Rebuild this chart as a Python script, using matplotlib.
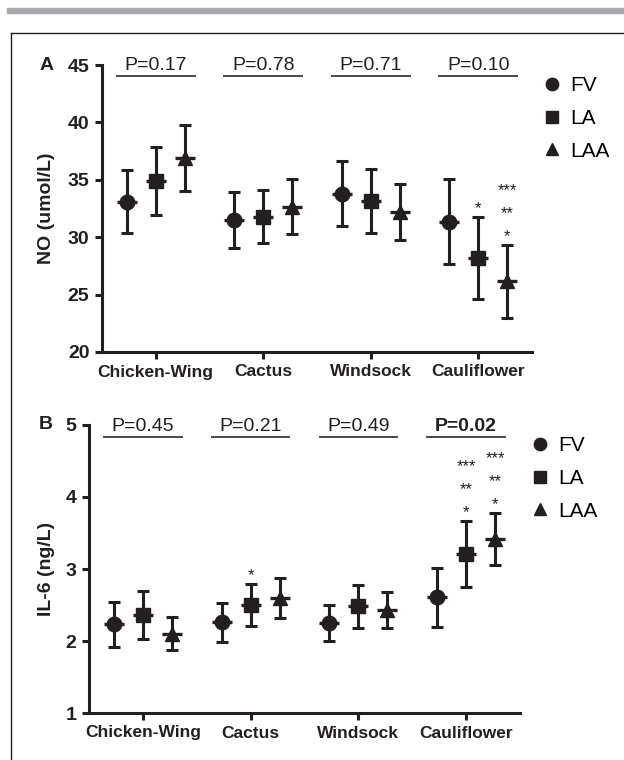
import numpy as np
import matplotlib
matplotlib.use("Agg")
import matplotlib.pyplot as plt
from matplotlib.lines import Line2D

plt.rcParams['font.family'] = ['Liberation Sans', 'DejaVu Sans']

INK = '#231f20'

# ---- data -------------------------------------------------------------
categories = ["Chicken-Wing", "Cactus", "Windsock", "Cauliflower"]
groups = ["FV", "LA", "LAA"]

no_mean = {"FV": [33.1, 31.5, 33.8, 31.35],
           "LA": [34.9, 31.8, 33.15, 28.2],
           "LAA": [36.9, 32.65, 32.2, 26.15]}
no_err = {"FV": [2.75, 2.45, 2.8, 3.7],
          "LA": [3.0, 2.3, 2.8, 3.6],
          "LAA": [2.85, 2.4, 2.47, 3.2]}
no_p = ["P=0.17", "P=0.78", "P=0.71", "P=0.10"]
no_p_bold = [False, False, False, False]
# (category index, group, star strings from bottom to top)
no_stars = [(3, "LA", ["*"]), (3, "LAA", ["*", "**", "***"])]

il6_mean = {"FV": [2.23, 2.26, 2.25, 2.61],
            "LA": [2.36, 2.50, 2.48, 3.21],
            "LAA": [2.10, 2.60, 2.43, 3.42]}
il6_err = {"FV": [0.31, 0.27, 0.25, 0.41],
           "LA": [0.33, 0.29, 0.30, 0.46],
           "LAA": [0.23, 0.28, 0.25, 0.36]}
il6_p = ["P=0.45", "P=0.21", "P=0.49", "P=0.02"]
il6_p_bold = [False, False, False, True]
il6_stars = [(1, "LA", ["*"]), (3, "LA", ["*", "**", "***"]),
             (3, "LAA", ["*", "**", "***"])]

markers = {"FV": "o", "LA": "s", "LAA": "^"}
msizes = {"FV": 10.5, "LA": 10, "LAA": 10.5}
offsets = {"FV": -0.27, "LA": 0.0, "LAA": 0.27}


def draw_panel(ax, means, errs, pvals, pbold, stars, ylim, yticks, ylabel,
               letter, letter_x, pline_y, leg_anchor):
    x = np.arange(1, len(categories) + 1)
    for g in groups:
        xs = x + offsets[g]
        ax.errorbar(xs, means[g], yerr=errs[g], fmt='none', ecolor=INK,
                    elinewidth=2.2, capsize=4.5, capthick=2.2, zorder=2)
        ax.plot(xs, means[g], linestyle='none', marker=markers[g],
                ms=msizes[g], color=INK, zorder=3)
        ax.plot(xs, means[g], linestyle='none', marker='_', ms=14,
                mew=2.4, color=INK, zorder=3)

    # significance stars above the upper error cap
    for ci, g, st in stars:
        top = means[g][ci] + errs[g][ci]
        for k, s in enumerate(st):
            ax.annotate(s, (x[ci] + offsets[g], top), xytext=(0, 6 + 16.5 * k),
                        textcoords='offset points', ha='center', va='center',
                        fontsize=12, color=INK, annotation_clip=False)

    # P-value labels with bars
    for ci, (ptxt, b) in enumerate(zip(pvals, pbold)):
        ax.plot([x[ci] - 0.37, x[ci] + 0.37], [pline_y, pline_y], color='#3a3a3a',
                lw=1.3, clip_on=False, solid_capstyle='butt')
        ax.annotate(ptxt, (x[ci], pline_y), xytext=(0, 4.5),
                    textcoords='offset points', ha='center', va='baseline',
                    fontsize=14, color=INK, annotation_clip=False,
                    fontweight='bold' if b else 'normal')

    ax.set_xlim(0.5, 4.5)
    ax.set_ylim(*ylim)
    ax.set_yticks(yticks)
    ax.set_xticks(x)
    ax.set_xticklabels(categories, fontsize=12.5, fontweight='bold', color=INK)
    for lab in ax.get_yticklabels():
        lab.set_fontsize(14)
        lab.set_fontweight('bold')
        lab.set_color(INK)
    ax.set_ylabel(ylabel, fontsize=14, fontweight='bold', color=INK)
    for side in ('top', 'right'):
        ax.spines[side].set_visible(False)
    for side in ('left', 'bottom'):
        ax.spines[side].set_linewidth(2.2)
        ax.spines[side].set_color(INK)
    ax.tick_params(axis='both', width=2.2, length=5, color=INK, pad=4)

    ax.text(letter_x, 1.0, letter, transform=ax.transAxes, fontsize=14,
            fontweight='bold', ha='center', va='center', color=INK)

    handles = [Line2D([], [], linestyle='none', marker=markers[g], ms=msizes[g] * 0.85,
                      color=INK) for g in groups]
    ax.legend(handles, groups, loc='upper left', bbox_to_anchor=leg_anchor,
              frameon=False, fontsize=15, handlelength=0.8, handletextpad=0.5,
              labelspacing=0.66, borderaxespad=0)


fig = plt.figure(figsize=(6.24, 7.6), dpi=100)

# page decorations: gray rule and panel box
fig.patches.append(plt.Rectangle((7 / 624, 1 - 13 / 760), 1, 5 / 760,
                                 transform=fig.transFigure, color='#a7a9ac'))
fig.add_artist(Line2D([11 / 624, 1], [1 - 33 / 760, 1 - 33 / 760],
                      transform=fig.transFigure, color=INK, lw=1.0))
fig.add_artist(Line2D([11 / 624, 11 / 624], [0, 1 - 33 / 760],
                      transform=fig.transFigure, color=INK, lw=1.0))

axA = fig.add_axes([102 / 624, 1 - 352 / 760, 430 / 624, 287 / 760])
axB = fig.add_axes([89 / 624, 1 - 713 / 760, 431 / 624, 288 / 760])

draw_panel(axA, no_mean, no_err, no_p, no_p_bold, no_stars, (20, 45),
           [20, 25, 30, 35, 40, 45], "NO (umol/L)", "A", -0.13, 44.05,
           (1.007, 0.99))
draw_panel(axB, il6_mean, il6_err, il6_p, il6_p_bold, il6_stars, (1, 5),
           [1, 2, 3, 4, 5], "IL-6 (ng/L)", "B", -0.1, 4.83,
           (1.007, 0.99))

axA.yaxis.set_label_coords(-0.109, 0.5)
axB.yaxis.set_label_coords(-0.079, 0.5)

fig.savefig("out.png", dpi=100)
